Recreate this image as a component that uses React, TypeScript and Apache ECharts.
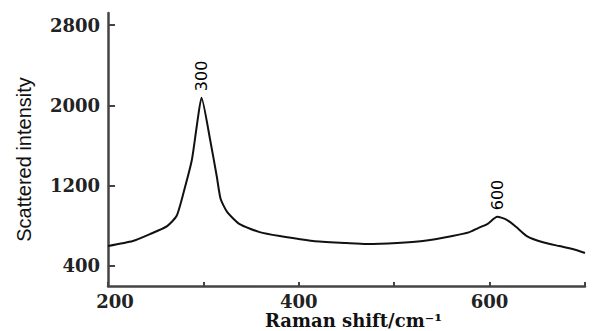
import React, { useEffect, useRef } from "react";
import * as echarts from "echarts";

const ramanShift = [200, 226, 244, 262, 272, 280, 288, 293, 298, 307, 314, 318, 325, 338, 359, 380, 415, 450, 471, 503, 530, 561, 579, 588, 598, 608, 618, 628, 639, 655, 673, 687, 700];
const intensity = [598, 648, 717, 797, 900, 1160, 1461, 1789, 2076, 1660, 1293, 1070, 936, 817, 737, 698, 648, 628, 618, 628, 648, 698, 737, 777, 820, 890, 860, 787, 698, 638, 598, 569, 529];
const peakShift = [298, 608];
const peakIntensity = [2076, 890];
const peakLabels = ["300", "600"];
const xTickLabels = [200, 400, 600];
const xTicks = [200, 300, 400, 500, 600, 700];
const yTickLabels = [400, 1200, 2000, 2800];

export default function App() {
  const ref = useRef<HTMLDivElement>(null);
  useEffect(() => {
    if (!ref.current) return;
    const chart = echarts.init(ref.current, null, { renderer: "svg" });
    const lineData = ramanShift.map((x, i) => [x, intensity[i]]);
    const peakData = peakShift.map((x, i) => ({ value: [x, peakIntensity[i]], name: peakLabels[i] }));
    chart.setOption({
      animation: false,
      backgroundColor: "#fff",
      grid: { left: 108, right: 9, top: 13, bottom: 45, containLabel: false, outerBoundsMode: "none" },
      xAxis: {
        type: "value",
        min: 200,
        max: 700,
        interval: 100,
        name: "Raman shift/cm⁻¹",
        nameLocation: "middle",
        nameGap: 25,
        nameMoveOverlap: false,
        nameTextStyle: { fontFamily: "DejaVu Serif", fontWeight: "bold", fontSize: 18, color: "#111", padding: [0, 0, 0, 14] },
        axisLine: { lineStyle: { color: "#444", width: 2.5 } },
        axisTick: { inside: true, length: 4, customValues: xTicks, lineStyle: { color: "#444", width: 2 } },
        axisLabel: {
          customValues: xTickLabels,
          margin: 6,
          fontFamily: "DejaVu Serif",
          fontWeight: "bold",
          fontSize: 18,
          color: "#222",
          formatter: (v: number) => (v === 200 ? `{s|${v}}` : `${v}`),
          rich: { s: { padding: [0, 0, 0, 14], fontFamily: "DejaVu Serif", fontWeight: "bold", fontSize: 18, color: "#222" } },
        },
        splitLine: { show: false },
      },
      yAxis: {
        type: "value",
        min: 200,
        max: 2920,
        name: "Scattered intensity",
        nameLocation: "middle",
        nameGap: 74,
        nameMoveOverlap: false,
        nameRotate: 90,
        nameTextStyle: { fontFamily: "Liberation Sans", fontSize: 20, color: "#111", padding: [0, 20, 0, 0] },
        axisLine: { lineStyle: { color: "#444", width: 2.5 } },
        axisTick: { inside: true, length: 7, customValues: yTickLabels, lineStyle: { color: "#444", width: 2 } },
        axisLabel: {
          customValues: yTickLabels,
          margin: 8,
          fontFamily: "DejaVu Serif",
          fontWeight: "bold",
          fontSize: 18,
          color: "#222",
          formatter: (v: number) => `${v}`,
        },
        splitLine: { show: false },
      },
      series: [
        {
          type: "line",
          data: lineData,
          smooth: 0.2,
          symbol: "none",
          lineStyle: { color: "#111", width: 2 },
        },
        {
          type: "scatter",
          data: peakData,
          symbolSize: 1,
          itemStyle: { color: "rgba(0,0,0,0)", opacity: 1 },
          label: {
            show: true,
            formatter: (p: any) => p.name,
            position: "top",
            rotate: 90,
            align: "left",
            verticalAlign: "middle",
            distance: 6,
            fontFamily: "DejaVu Sans",
            fontSize: 16,
            color: "#000",
            opacity: 1,
            textBorderWidth: 0,
          },
        },
      ],
    });
    return () => chart.dispose();
  }, []);
  return <div ref={ref} style={{ width: 594, height: 331, position: "absolute", left: 0, top: 0 }} />;
}
